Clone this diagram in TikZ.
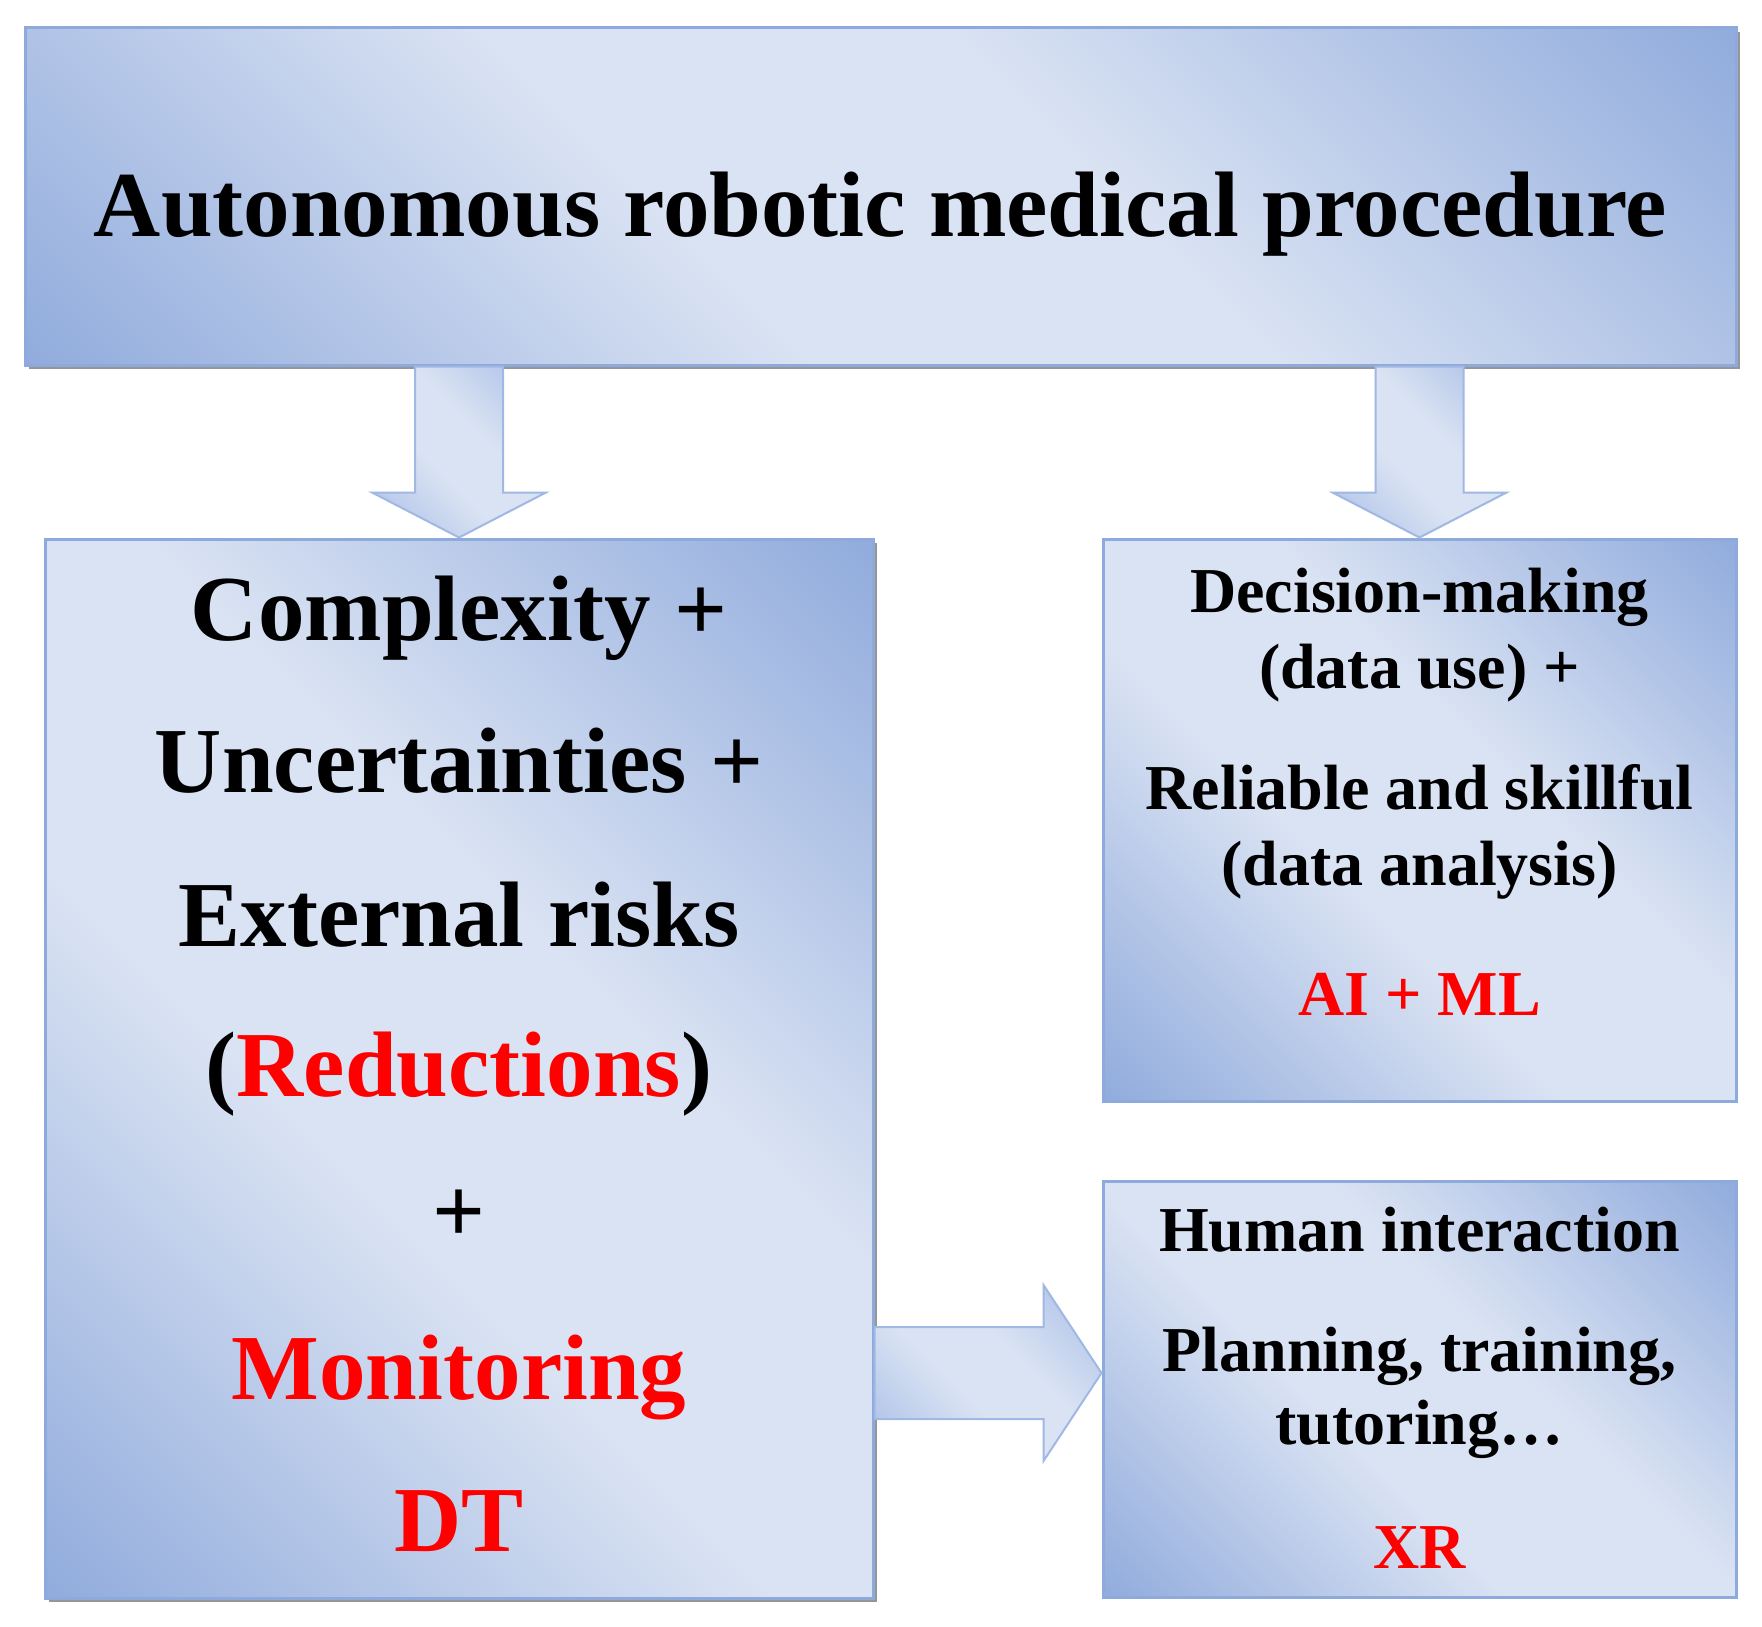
\documentclass[tikz,border=0pt]{standalone}
\usepackage{fontspec}
\setmainfont{Liberation Serif}
\usetikzlibrary{calc,shadows}
\definecolor{bxdark}{RGB}{143,170,220}
\definecolor{bxlight}{RGB}{218,227,243}
\definecolor{bxline}{RGB}{142,169,219}
\definecolor{ardark}{RGB}{165,187,229}
\definecolor{arline}{RGB}{160,184,228}
\definecolor{shd}{RGB}{150,150,150}
\definecolor{txtred}{RGB}{255,0,0}
\pgfdeclareverticalshading{boxshade}{100bp}{color(0bp)=(bxdark); color(14bp)=(bxdark); color(42bp)=(bxlight); color(58bp)=(bxlight); color(86bp)=(bxdark); color(100bp)=(bxdark)}
\pgfdeclareverticalshading{arrowshade}{100bp}{color(0bp)=(ardark); color(14bp)=(ardark); color(42bp)=(bxlight); color(58bp)=(bxlight); color(86bp)=(ardark); color(100bp)=(ardark)}
\tikzset{
  box/.style={rectangle, inner sep=0pt, draw=bxline, line width=3pt, shading=boxshade, shading angle=-45},
  shadowed/.style={drop shadow={shadow xshift=4pt, shadow yshift=-4pt, fill=shd, opacity=1}},
  blockarrow/.style={draw=arline, line width=2pt, line join=miter, shading=arrowshade, shading angle=-45},
  bigtxt/.style={inner sep=0pt, anchor=base, font=\fontsize{93}{93}\selectfont\bfseries},
  midtxt/.style={inner sep=0pt, anchor=base, font=\fontsize{64}{64}\selectfont\bfseries}
}
\newcommand{\vblockarrow}[2]{\path[blockarrow] let \p1=(#1), \p2=(#2) in
  (\x1-44pt,\y1) -- (\x1+44pt,\y1) -- (\x1+44pt,\y2+45pt) -- (\x1+87pt,\y2+45pt)
  -- (\x1,\y2) -- (\x1-87pt,\y2+45pt) -- (\x1-44pt,\y2+45pt) -- cycle;}
\newcommand{\hblockarrow}[2]{\path[blockarrow] let \p1=(#1), \p2=(#2) in
  (\x1,\y1+46pt) -- (\x2-58pt,\y1+46pt) -- (\x2-58pt,\y1+88pt) -- (\x2,\y1)
  -- (\x2-58pt,\y1-88pt) -- (\x2-58pt,\y1-46pt) -- (\x1,\y1-46pt) -- cycle;}
\begin{document}
\begin{tikzpicture}[x=1pt,y=-1pt]
\useasboundingbox[fill=white] (0,0) rectangle (1762,1627);
% boxes
\node[box, shadowed, minimum width=1711pt, minimum height=337pt] (top) at (880.5,196.5) {};
\node[box, shadowed, minimum width=828pt, minimum height=1059pt] (lb) at (459,1068.5) {};
\node[box, minimum width=633pt, minimum height=562pt] (rt) at (1419.5,820) {};
\node[box, minimum width=633pt, minimum height=416pt] (hb) at (1419.5,1389) {};
% connectors
\vblockarrow{top.south -| lb.north}{lb.north}
\vblockarrow{top.south -| rt.north}{rt.north}
\coordinate (hy) at ($(hb.west)+(0,-16)$);
\hblockarrow{lb.east |- hy}{hb.west |- hy}
% texts
\node[bigtxt] (ttl) at (880.5,236) {Autonomous robotic medical procedure};
\node[bigtxt] (l1) at (459,640) {Complexity +};
\node[bigtxt] (l2) at (459,792) {Uncertainties +};
\node[bigtxt] (l3) at (459,946) {External risks};
\node[bigtxt] (l4) at (459,1096) {(\textcolor{txtred}{Reductions})};
\node[bigtxt] (l5) at (459,1242) {+};
\node[bigtxt, text=txtred] (l6) at (459,1399) {Monitoring};
\node[bigtxt, text=txtred] (l7) at (459,1551) {DT};
\node[midtxt] (r1) at (1419.5,612) {Decision-making};
\node[midtxt] (r2) at (1419.5,688) {(data use) +};
\node[midtxt] (r3) at (1419.5,809) {Reliable and skillful};
\node[midtxt] (r4) at (1419.5,885) {(data analysis)};
\node[midtxt, text=txtred] (r5) at (1419.5,1015) {AI + ML};
\node[midtxt] (h1) at (1419.5,1251) {Human interaction};
\node[midtxt] (h2) at (1419.5,1371) {Planning, training,};
\node[midtxt] (h3) at (1419.5,1444) {tutoring…};
\node[midtxt, text=txtred] (h4) at (1419.5,1568) {XR};
\end{tikzpicture}
\end{document}
